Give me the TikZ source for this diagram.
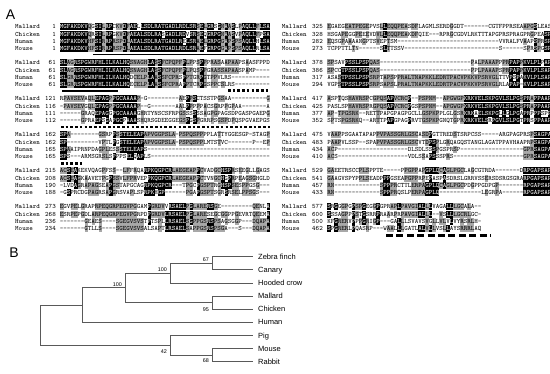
\documentclass[tikz,border=0pt]{standalone}
\usepackage{fontspec}
\setmainfont{Liberation Sans}
\definecolor{shadegray}{gray}{0.66}
\definecolor{treegray}{gray}{0.35}
\newcommand\seqfont{\ttfamily\fontsize{6.67}{7}\selectfont}
\newcount\rescount
\newcount\rmatch
\def\storerow#1#2{%
  \gdef\rowname{#1}%
  \global\rescount=0
  \foreach \k in {1,...,64}{\expandafter\xdef\csname s#1:\k\endcsname{.}}%
  \storeloop#2\end}
\def\storeloop#1{%
  \ifx#1\end
  \else
    \global\advance\rescount by 1
    \expandafter\xdef\csname s\rowname:\the\rescount\endcsname{#1}%
    \expandafter\storeloop
  \fi}
% ---------- left block ----------
\storerow{L1-1}{MGFAKDKVQG SILRPCKVDF AELLSDLRAT GADLRDLSRS ELGRSGNAAS LPAQLLFLSA}
\storerow{L1-2}{MGFAKDKVQR SILRPGKVDF AEALSDLRAS GADLRDVSRS EQGRPGNAAS VPAQLLFPSA}
\storerow{L1-3}{MGFAKDKVHF SIRRPRSPDL AEALSDLRAT GADLRELSRA ELGRPGGAPS PSAQLLHLSA}
\storerow{L1-4}{MGFAKDKVHF SIRRPRSPDL AEALSDLRAT GADLRDLSRA EFGRPGGAPS PSAQLLRLSA}
\storerow{L2-1}{SLAGRSPGWR FHLILKALHQ SNAGHLASSF CPQPFPLPPS PPPRASAAPA APSAASFPPD}
\storerow{L2-2}{SLAGRSPGWR FHLILKALHQ SNAGHLASSF CPQPFPLPQS PPGRASSAPA ASPAMP----}
\storerow{L2-3}{SLGRRSPGWR FHLILKALHQ DCELPLAASS FCPRSPPTGR PGTPPVLRS- ----------}
\storerow{L2-4}{SLGRRSPGWR FHLILKALHQ ECELPLAASS FCPRAPPTCR PGSPPCSLRS ----------}
\storerow{L3-1}{RPAVSEVAQL EPAGPPGCAA AAP-G----- ----AEPPSC TSSTPGSAA- ---------G}
\storerow{L3-2}{-PAVSEVGQL EPAGPPGCAA AAP--G---- ---AALPPPP PACSGRPPGP AA-------A}
\storerow{L3-3}{------GRAQ EPAGGPGCAA AAGHRTYNSC SFRPGSSSSS SAGPGPAGSD PGASPGAEPG}
\storerow{L3-4}{------GPRA EPSGAPGCPA AASHQRSGDE EGGEGSPGSP GRRPSGSPDP QSPGVAEPGS}
\storerow{L4-1}{SPA------- -GSRPPSSTE LEAPAPVGGP SLA-PSPQSP PPPLATTYGG ESGP-STAGP}
\storerow{L4-2}{SP-------- -VPTLPGSTE LEAPAPVGGP SLA-PSPQSP PLMTSTVC-- -----P--EP}
\storerow{L4-3}{SPAAIPRNPD AGPLESSSTE LEAPS----- ---------- ---------- ----------}
\storerow{L4-4}{SPS---ARMS GRSLSPPPSE LQAPLS---- ---------- ---------- ----------}
\storerow{L5-1}{ACSEAKEKVQ AGPFSS--LF FRQARPKQGP CRLAEGEAPP CVADGCHSPR SEEGLLGAGS}
\storerow{L5-2}{ACSEAGKAAV ETPGPSSVLF PRVEPPKQGP CRLAEGEAPP CTVNGCHGPR PEAGSGHGLD}
\storerow{L5-3}{-LVDAGRAPA GSEAPGSTAP GCAGRPKQGP CR---TPGCP GSPTRGHSPS ESPPGSG---}
\storerow{L5-4}{-GSPRCDGPA GRSAPGRSVA PLSPRPKHGP ------PGAP GSPTSGRSRS ELPPSGS---}
\storerow{L6-1}{EGVPELGRAP RPEQGRPEGV PGGAMPGRDV VRSAELPGLA RERSGE---- -----QENLA}
\storerow{L6-2}{ESRPEPGDLA RPEQGRPEGV PGRPDPGRDV LRSAELPGLA RESEGCGGPP GEVRTQEEMA}
\storerow{L6-3}{-------GEA ES----SGEG VSVSTPTSPL LRSAELSGPP GSRSPSAGSG GP---DQAPA}
\storerow{L6-4}{-------GTL LS----SGEG VSVSALSAPT LRSAELSAPP GSRSPSGA-- -S---DQAPA}
% ---------- right block ----------
\storerow{R1-1}{EGAEGEATPE GEPVSLLEQQ PEASDFLAGM LSERDGGDT- ------CGTF PPRSEAAPGS LEAS}
\storerow{R1-2}{HSGAPEGGPE EEVDVLLEQQ PEAKDFQIE- --RPRGCGDV LRKTTTAPGP RSPRAGPRGP EASP}
\storerow{R1-3}{EQSGPAAAAN GPTSVEPTSM ---------- ---------- ---------V VRALFVAAPS PRSP}
\storerow{R1-4}{TCPPTTLTN- -----SLTTS SV-------- ---------- ---------S ------SPRS PGSP}
\storerow{R2-1}{SPSAVPSSLP SPQAS----- ---------- ---------- -PALPAAAPP PRPAPPKVLP LPAP}
\storerow{R2-2}{SPCCTPSSLP SPQAS----- ---------- ---------- -PPLPAAAPS PRPAPPKVLP LSAP}
\storerow{R2-3}{ASASTPSSLP SPSRPTAPSP PRALTNAPKK LEDRTPACVP KKVPSRVGLT TVPSPAKVLP LSAP}
\storerow{R2-4}{VGPSTPSSLP SPSRPSAPSL PRALTNAPKK LEDRTPACVP KKVPSRVGLR LAPAP-KVLP LSAP}
\storerow{R3-1}{ASPTQSHAVR SPCGPQSAPV CRCP--PSPN M--APGWGPK RKVELSKPGV LSLPGSPRAP PAAP}
\storerow{R3-2}{PASLSPHAVR SPRGPQSAPV CRCPGSPSPN M--APGWGPK RKVELSKPGV LSLPGSPRAP PAAP}
\storerow{R3-3}{AP-TPGSRK- -RETTPAPGP AGPGCLLGSP KPPLGLGSRK RKAELSKPGL LGLPGAPRPP PSPP}
\storerow{R3-4}{SPTSPGSRKQ --ARTTPAPG PAGPRVTGSP KPGNQTGPRK RKVELSRPGV LSLPGTPRSP PAAP}
\storerow{R4-1}{VAAPPSGAAT APAPPVPASS GRLGSCASDP GTTREDSTSR PCSS-----A RGPAGPRSPS AGPA}
\storerow{R4-2}{PAAPVLSSP- -SPAPVPASS GRLGSCVTDP SPLGRQAGQS TANGLAGATP PAVHAAPRPS AGPA}
\storerow{R4-3}{ACP------- ---------- ---DLSDLSS SPGSPRSP-- ---------- ------GPRS AGPA}
\storerow{R4-4}{ACS------- ---------- ---VDLSSAP SSSPRS---- ---------- ------GPRS AGPA}
\storerow{R5-1}{GAEETRSCCP LSPPTE---- -PPGPPAPGP LQCAGLPGCL AGCGTRDA-- -----DRPGA PSAP}
\storerow{R5-2}{GAAGVSPYPP LSEADPPPGS EAPGPPRPEP ASPASDRSLG RRVSSERSDS RGSGRARPGA PSAP}
\storerow{R5-3}{RN-------- -----SPPPR CTTLERPAGP LQCAGLPGCP DGPPGDPGP- ------RPGA PSAP}
\storerow{R5-4}{RN-------- -----SPPPR QSLPERPAGP LQ-------- ----LEGRPA ------RPGA PSAP}
\storerow{R6-1}{SRGGGPGPSP GEGGPGPRAP LPAVGIALLL VAGALLLGCA LA--}
\storerow{R6-2}{SSSAGPPPST GSRRPRAARP RPAVGIALLL --VSLLLGCR LGC-}
\storerow{R6-3}{KFGRERVPPP GRIGP---GA LLLSVAVSVG LLVLVLVYRS RLH-}
\storerow{R6-4}{SPGRERLPQA SRP---WAAL LLGATLALVL LVSLLAYSRR RLAQ}

\def\drawgroup#1#2#3#4{%
  \foreach \c in {1,...,#4}{%
    \foreach \r in {1,...,4}{%
      \edef\me{\csname s#1-\r:\c\endcsname}%
      \pgfmathsetmacro\xx{#2+(\c-0.5)*3.5}%
      \pgfmathsetmacro\yy{#3+(\r-1)*7.3}%
      \pgfmathsetmacro\yb{\yy+2.05}%
      \if.\me
      \else
        \if-\me
          \node[res] at (\xx,\yb) {-};
        \else
          \global\rmatch=0
          \foreach \o in {1,...,4}{%
            \ifnum\o=\r\else
              \edef\ot{\csname s#1-\o:\c\endcsname}%
              \if\me\ot\global\advance\rmatch by 1\fi
            \fi}%
          \ifnum\rmatch>1
            \fill[black] (\xx-1.75,\yy-3.5) rectangle (\xx+1.75,\yy+3.5);
            \node[res,white] at (\xx,\yb) {\me};
          \else
            \ifnum\rmatch=1
              \fill[shadegray] (\xx-1.75,\yy-3.5) rectangle (\xx+1.75,\yy+3.5);
            \fi
            \node[res] at (\xx,\yb) {\me};
          \fi
        \fi
      \fi
    }}}

\newcommand\grplabels[8]{%
  \node[lab,anchor=base west] (#1n1) at (#2,#4+2.05) {Mallard};
  \node[lab,anchor=base west] (#1n2) at (#2,#4+9.35) {Chicken};
  \node[lab,anchor=base west] (#1n3) at (#2,#4+16.65) {Human};
  \node[lab,anchor=base west] (#1n4) at (#2,#4+23.95) {Mouse};
  \node[lab,anchor=base east] (#1k1) at (#3,#4+2.05) {#5};
  \node[lab,anchor=base east] (#1k2) at (#3,#4+9.35) {#6};
  \node[lab,anchor=base east] (#1k3) at (#3,#4+16.65) {#7};
  \node[lab,anchor=base east] (#1k4) at (#3,#4+23.95) {#8};}

\tikzset{
  res/.style={inner sep=0pt, font=\seqfont, anchor=base},
  lab/.style={inner sep=0pt, font=\seqfont},
  tree/.style={draw=treegray, line width=0.7pt},
  leaf/.style={font=\fontsize{7.5}{8}\selectfont, anchor=west, inner ysep=0pt, inner xsep=5pt, text height=5.4pt, text depth=0pt},
  bs/.style={font=\fontsize{5.4}{6}\selectfont, anchor=east, inner sep=0pt, text height=3.9pt, text depth=0pt},
  panel/.style={font=\fontsize{14}{16}\selectfont, inner sep=0pt},
  uline/.style={line width=1.6pt},
  dotline/.style={line width=2.6pt, dash pattern=on 2.6pt off 2.1pt},
  dashline/.style={line width=2.4pt, dash pattern=on 7pt off 3.4pt}
}

\begin{document}
\begin{tikzpicture}[x=1pt,y=-1pt]
\useasboundingbox (0,0) rectangle (550,373);
\fill[white] (0,0) rectangle (550,373);
\node[panel] (pA) at (10.5,15) {A};
\node[panel] (pB) at (14,253) {B};
% alignment blocks
\drawgroup{L1}{60}{26.7}{60}
\drawgroup{L2}{60}{62.7}{60}
\drawgroup{L3}{60}{98.7}{60}
\drawgroup{L4}{60}{134.7}{60}
\drawgroup{L5}{60}{170.7}{60}
\drawgroup{L6}{60}{206.7}{60}
\drawgroup{R1}{327.3}{26.7}{64}
\drawgroup{R2}{327.3}{62.7}{64}
\drawgroup{R3}{327.3}{98.7}{64}
\drawgroup{R4}{327.3}{134.7}{64}
\drawgroup{R5}{327.3}{170.7}{64}
\drawgroup{R6}{327.3}{206.7}{64}
\grplabels{la}{15}{56}{26.7}{1}{1}{1}{1}
\grplabels{lb}{15}{56}{62.7}{61}{61}{61}{61}
\grplabels{lc}{15}{56}{98.7}{121}{116}{111}{112}
\grplabels{ld}{15}{56}{134.7}{162}{162}{165}{165}
\grplabels{le}{15}{56}{170.7}{215}{208}{190}{188}
\grplabels{lf}{15}{56}{206.7}{273}{268}{236}{234}
\grplabels{ra}{281.7}{323}{26.7}{325}{328}{282}{273}
\grplabels{rb}{281.7}{323}{62.7}{378}{386}{317}{294}
\grplabels{rc}{281.7}{323}{98.7}{417}{425}{377}{352}
\grplabels{rd}{281.7}{323}{134.7}{475}{483}{434}{410}
\grplabels{re}{281.7}{323}{170.7}{529}{541}{457}{433}
\grplabels{rf}{281.7}{323}{206.7}{577}{600}{500}{462}
% annotations
\draw[uline] (93,54.6) -- (270,54.6);
\draw[uline] (62,90.7) -- (118,90.7);
\draw[dotline] (228,90.3) -- (270,90.3);
\draw[dotline] (61,127) -- (270,127);
\draw[dotline] (61,163.3) -- (84,163.3);
\draw[dashline] (386,235.5) -- (491,235.5);
% tree
\coordinate (R) at (40,325.05);
\coordinate (I) at (82.7,305);
\coordinate (Bd) at (125,287.8);
\coordinate (Ps) at (170,273.1);
\coordinate (ZC) at (212,263.25);
\coordinate (Ga) at (212,302.55);
\coordinate (Mm) at (170,345.1);
\coordinate (MR) at (212,354.95);
\node[leaf] (zf) at (253,256.7) {Zebra finch};
\node[leaf] (ca) at (253,269.8) {Canary};
\node[leaf] (hc) at (253,282.9) {Hooded crow};
\node[leaf] (ma) at (253,296) {Mallard};
\node[leaf] (ch) at (253,309.1) {Chicken};
\node[leaf] (hu) at (253,322.2) {Human};
\node[leaf] (pi) at (253,335.3) {Pig};
\node[leaf] (mo) at (253,348.4) {Mouse};
\node[leaf] (ra) at (253,361.5) {Rabbit};
\draw[tree] (R) |- (I);
\draw[tree] (R) |- (Mm);
\draw[tree] (I) |- (Bd);
\draw[tree] (I) |- (hu.west);
\draw[tree] (Bd) |- (Ps);
\draw[tree] (Bd) |- (Ga);
\draw[tree] (Ps) |- (ZC);
\draw[tree] (Ps) |- (hc.west);
\draw[tree] (ZC) |- (zf.west);
\draw[tree] (ZC) |- (ca.west);
\draw[tree] (Ga) |- (ma.west);
\draw[tree] (Ga) |- (ch.west);
\draw[tree] (Mm) |- (pi.west);
\draw[tree] (Mm) |- (MR);
\draw[tree] (MR) |- (mo.west);
\draw[tree] (MR) |- (ra.west);
\node[bs] (b67) at (209,259.3) {67};
\node[bs] (b100a) at (167,269.3) {100};
\node[bs] (b100b) at (122,284.3) {100};
\node[bs] (b95) at (209,310) {95};
\node[bs] (b42) at (167,351.7) {42};
\node[bs] (b68) at (209,360.7) {68};
\end{tikzpicture}
\end{document}
